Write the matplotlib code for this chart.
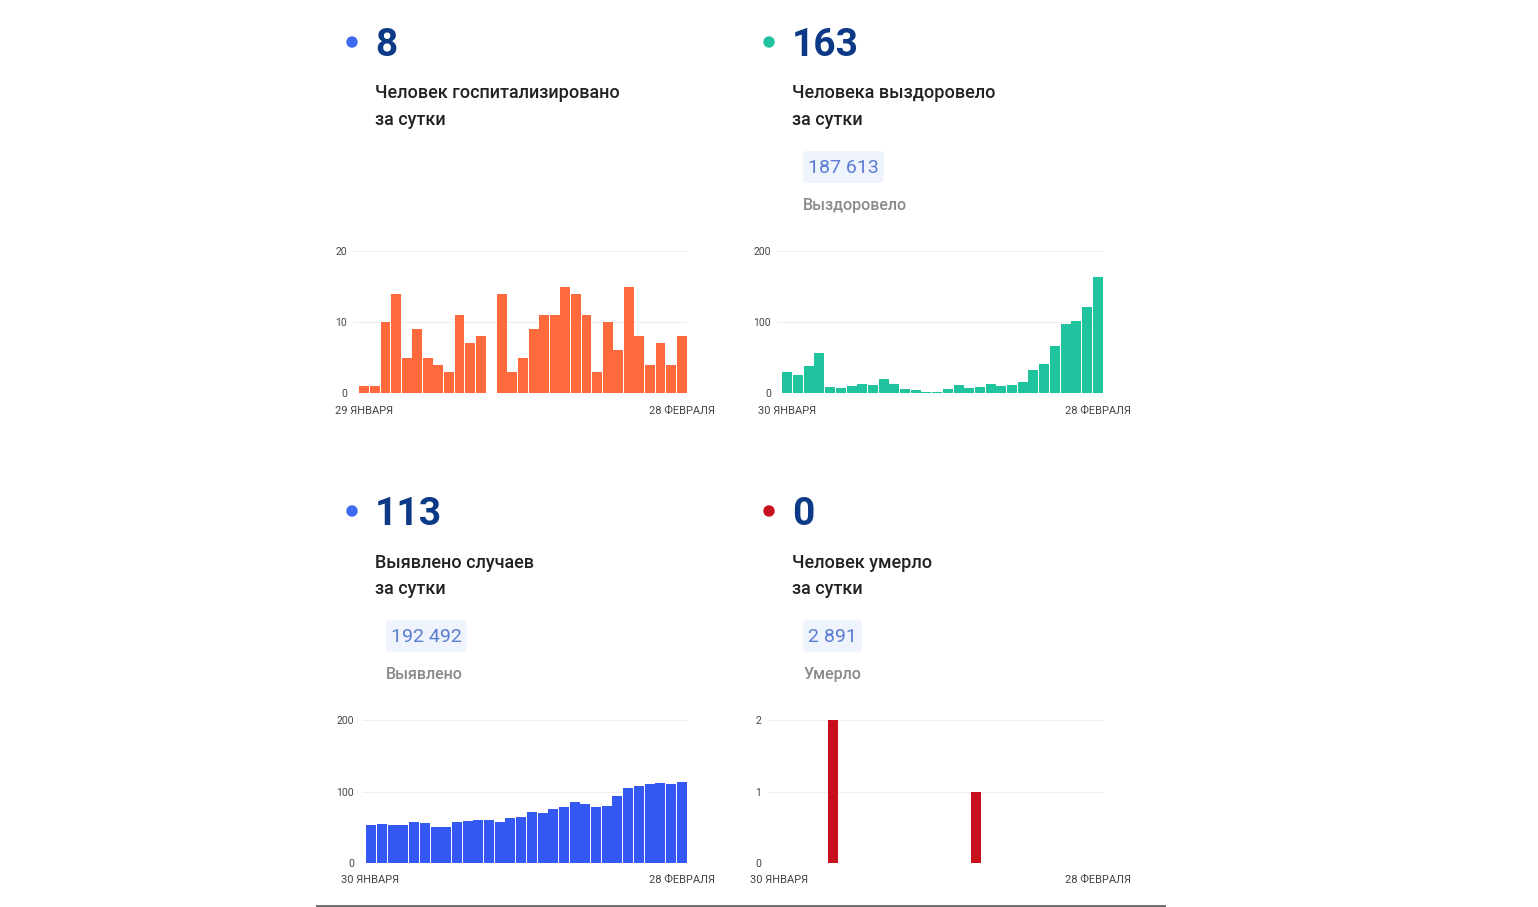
import matplotlib
matplotlib.use("Agg")
import matplotlib.pyplot as plt
from matplotlib.patches import FancyBboxPatch, Circle

plt.rcParams['font.family'] = ['Roboto', 'DejaVu Sans']

# ---------------- data ----------------
hosp_values = [1, 1, 10, 14, 5, 9, 5, 4, 3, 11, 7, 8, 0, 14, 3, 5, 9, 11, 11, 15,
               14, 11, 3, 10, 6, 15, 8, 4, 7, 4, 8]
recov_values = [29, 26, 38, 56, 8, 7, 10, 13, 11, 20, 12, 6, 4, 1, 2, 5, 11, 7, 9, 13,
                10, 11, 15, 33, 41, 66, 97, 101, 121, 163]
cases_values = [53, 55, 53, 53, 57, 56, 51, 50, 57, 59, 60, 60, 58, 63, 65, 71, 70, 75,
                79, 85, 82, 79, 80, 94, 105, 108, 110, 112, 111, 113]
death_values = [0, 0, 0, 0, 0, 2, 0, 0, 0, 0, 0, 0, 0, 0, 0, 0, 0, 0, 1, 0,
                0, 0, 0, 0, 0, 0, 0, 0, 0, 0]

headline_numbers = ["8", "163", "113", "0"]
headline_line1 = ["Человек госпитализировано", "Человека выздоровело",
                  "Выявлено случаев", "Человек умерло"]
headline_line2 = ["за сутки", "за сутки", "за сутки", "за сутки"]
total_numbers = [None, "187 613", "192 492", "2 891"]
total_labels = [None, "Выздоровело", "Выявлено", "Умерло"]
start_labels = ["29 ЯНВАРЯ", "30 ЯНВАРЯ", "30 ЯНВАРЯ", "30 ЯНВАРЯ"]
end_labels = ["28 ФЕВРАЛЯ", "28 ФЕВРАЛЯ", "28 ФЕВРАЛЯ", "28 ФЕВРАЛЯ"]
y_ticks = [[0, 10, 20], [0, 100, 200], [0, 100, 200], [0, 1, 2]]

# ---------------- styles ----------------
W, H = 1538, 907
fig = plt.figure(figsize=(W / 100, H / 100), dpi=100)
fig.patch.set_facecolor("white")

NAVY = "#0d3a87"
dot_colors = ["#3d6af0", "#1fc39d", "#3d6af0", "#c80f1e"]
bar_colors = ["#ff6a3d", "#1fc39d", "#3459f2", "#c80f1e"]
all_values = [hosp_values, recov_values, cases_values, death_values]

panels = [
    dict(xt=375, yo=0, lr=347, gx=353, bx0=359, bx1=687, yt=251, yb=393, xl=335, xr=715, xy=411),
    dict(xt=792, yo=0, lr=771, gx=777, bx0=782, bx1=1103, yt=251, yb=393, xl=758, xr=1131, xy=411),
    dict(xt=375, yo=469, lr=354, gx=362, bx0=366, bx1=687, yt=720, yb=863, xl=341, xr=715, xy=880),
    dict(xt=792, yo=469, lr=761, gx=768, bx0=772, bx1=1103, yt=720, yb=863, xl=750, xr=1131, xy=880),
]

ov = fig.add_axes([0, 0, 1, 1])
ov.set_xlim(0, W)
ov.set_ylim(H, 0)
ov.axis("off")

for i, p in enumerate(panels):
    xt, yo = p["xt"], p["yo"]
    ov.add_patch(Circle((xt - 23, 42 + yo), 5, color=dot_colors[i], zorder=3))
    ov.text(xt, 56 + yo, headline_numbers[i], fontsize=28, fontweight="bold",
            color=NAVY, va="baseline", ha="left")
    ov.text(xt, 98.5 + yo, headline_line1[i], fontsize=13, fontweight=500,
            color="#222222", va="baseline", ha="left")
    ov.text(xt, 125 + yo, headline_line2[i], fontsize=13, fontweight=500,
            color="#222222", va="baseline", ha="left")
    if total_numbers[i] is not None:
        bx = xt + 11
        t = ov.text(bx + 5, 173 + yo, total_numbers[i], fontsize=14, color="#5a7cd2",
                    va="baseline", ha="left")
        fig.canvas.draw()
        wpx = t.get_window_extent().width
        ov.add_patch(FancyBboxPatch((bx, 151 + yo), wpx + 10, 32,
                                    boxstyle="round,pad=0,rounding_size=4",
                                    facecolor="#eef3fc", edgecolor="none", zorder=0))
        ov.text(bx, 210 + yo, total_labels[i], fontsize=11.5, fontweight=500,
                color="#8a8a8a", va="baseline", ha="left")
    ov.text(p["xl"], p["xy"], start_labels[i], fontsize=8, color="#444444",
            va="center", ha="left")
    ov.text(p["xr"], p["xy"], end_labels[i], fontsize=8, color="#444444",
            va="center", ha="right")

ov.plot([316, 1166], [905.5, 905.5], color="#555555", lw=1.2, solid_capstyle="butt")

for i, p in enumerate(panels):
    vals = all_values[i]
    n = len(vals)
    ax = fig.add_axes([p["gx"] / W, 1 - p["yb"] / H, (p["bx1"] - p["gx"]) / W,
                       (p["yb"] - p["yt"]) / H])
    pitch = (p["bx1"] - p["bx0"]) / n
    ax.set_xlim(-0.5 - (p["bx0"] - p["gx"]) / pitch, n - 0.5)
    ax.set_ylim(0, y_ticks[i][-1])
    ax.bar(range(n), vals, width=0.93, color=bar_colors[i], zorder=2)
    for s in ax.spines.values():
        s.set_visible(False)
    ax.set_yticks(y_ticks[i])
    ax.set_yticklabels([str(v) for v in y_ticks[i]])
    ax.yaxis.grid(True, color="#eeeeee", lw=0.8, zorder=0)
    ax.set_axisbelow(True)
    pad_pts = (p["gx"] - p["lr"]) * 72 / 100
    ax.tick_params(axis="y", length=0, pad=pad_pts, labelsize=7.5, labelcolor="#444444")
    ax.set_xticks([])
    ax.patch.set_alpha(0)

fig.savefig("out.png", dpi=100, facecolor="white")
